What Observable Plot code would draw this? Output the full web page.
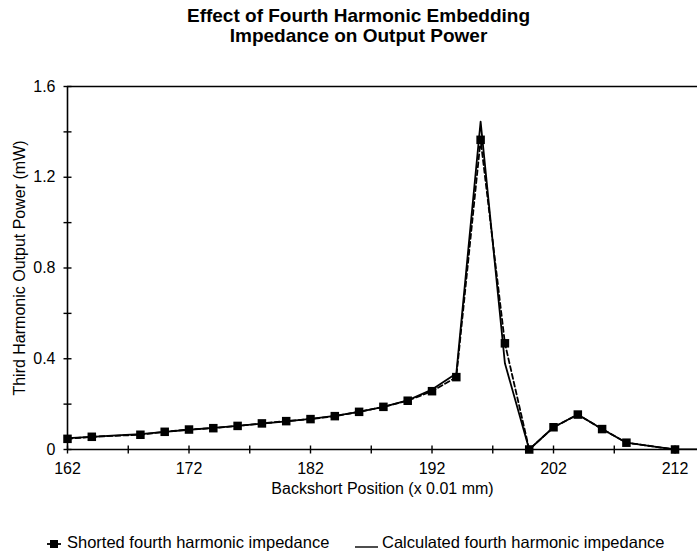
<!DOCTYPE html>
<html>
<head>
<meta charset="utf-8">
<script src="https://cdn.jsdelivr.net/npm/d3@7"></script>
<script src="https://cdn.jsdelivr.net/npm/@observablehq/plot@0.6"></script>
<style>
  body { margin: 0; background: #fff; font-family: "Liberation Sans", Arial, sans-serif; }
  #title { position: relative; height: 50px; text-align: center; font-weight: bold; font-size: 19px; line-height: 20px; padding-top: 6px; box-sizing: border-box; margin-left: 20px; color: #000; }
  #legend { position: relative; height: 45px; font-size: 16.5px; color: #000; }
  .li { position: absolute; top: 24px; display: flex; align-items: center; }
</style>
</head>
<body>
<div id="title">Effect of Fourth Harmonic Embedding<br>Impedance on Output Power</div>
<div id="chart"></div>
<div id="legend"></div>
<script>
// Shorted fourth harmonic impedance (squares)
const shortedX = [162,164,168,170,172,174,176,178,180,182,184,186,188,190,192,194,196,198,200,202,204,206,208,212];
const shortedY = [0.047,0.056,0.065,0.078,0.088,0.094,0.104,0.115,0.125,0.134,0.147,0.166,0.188,0.215,0.257,0.319,1.365,0.468,0.0,0.098,0.154,0.09,0.03,0.0];
// Calculated fourth harmonic impedance (line)
const calcX = [162,164,166,168,170,172,174,176,178,180,182,184,186,188,190,192,194,196,198,200,202,204,206,208,210,212,214];
const calcY = [0.05,0.056,0.062,0.068,0.078,0.087,0.095,0.104,0.114,0.124,0.135,0.148,0.166,0.188,0.217,0.264,0.335,1.445,0.38,0.0,0.098,0.154,0.09,0.03,0.015,0.0,0.0];
// Axis ticks
const xTickLabels = [162,172,182,192,202,212];
const xTicksAll = [162,167,172,177,182,187,192,197,202,207,212];
const yTickLabels = [0,0.4,0.8,1.2,1.6];
const yTicksAll = [0,0.2,0.4,0.6,0.8,1.0,1.2,1.4,1.6];

const shorted = shortedX.map((x,i) => ({x, y: shortedY[i]}));
const calc = calcX.map((x,i) => ({x, y: calcY[i]}));

const vTick = {draw(ctx) { ctx.moveTo(0,-4); ctx.lineTo(0,4); }};
const hTick = {draw(ctx) { ctx.moveTo(-4,0); ctx.lineTo(4,0); }};

const chart = Plot.plot({
  width: 697,
  height: 459,
  marginLeft: 67,
  marginRight: 0,
  marginTop: 36,
  marginBottom: 60,
  style: {fontFamily: '"Liberation Sans", Arial, sans-serif', fontSize: "16px", color: "#000", background: "#fff"},
  x: {domain: [162, 213.85]},
  y: {domain: [0, 1.6]},
  marks: [
    Plot.axisX({ticks: xTickLabels, tickSize: 0, tickPadding: 13, label: "Backshort Position (x 0.01 mm)", labelAnchor: "center", labelOffset: 44, labelArrow: "none", fontSize: 16}),
    Plot.axisY({ticks: yTickLabels, tickSize: 0, tickPadding: 12, tickFormat: d => d === 0 ? "0" : d.toFixed(1), label: "Third Harmonic Output Power (mW)", labelAnchor: "center", labelOffset: 54, labelArrow: "none", fontSize: 16}),
    Plot.ruleY([0], {stroke: "#000", strokeWidth: 1.6}),
    Plot.ruleY([1.6], {stroke: "#000", strokeWidth: 1.6}),
    Plot.ruleX([162], {stroke: "#000", strokeWidth: 1.6}),
    Plot.dot(xTicksAll, {x: d => d, y: 0, symbol: vTick, stroke: "#000", strokeWidth: 1.4, fill: "none"}),
    Plot.dot(yTicksAll, {x: 162, y: d => d, symbol: hTick, stroke: "#000", strokeWidth: 1.4, fill: "none"}),
    Plot.line(calc, {x: "x", y: "y", stroke: "#000", strokeWidth: 1.8, clip: true}),
    Plot.line(shorted, {x: "x", y: "y", stroke: "#000", strokeWidth: 1.8, strokeDasharray: "5,3", clip: true}),
    Plot.dot(shorted, {x: "x", y: "y", symbol: "square", r: 4.8, fill: "#000", stroke: "none"})
  ]
});
document.getElementById("chart").appendChild(chart);

// Legend
const legend = d3.select("#legend");
const l1 = legend.append("div").attr("class", "li").style("left", "46px");
const s1 = l1.append("svg").attr("width", 16).attr("height", 12).style("margin-right", "5px");
s1.append("line").attr("x1", 1).attr("x2", 15).attr("y1", 7).attr("y2", 7).attr("stroke", "#000").attr("stroke-width", 1.8);
s1.append("rect").attr("x", 4).attr("y", 3).attr("width", 8).attr("height", 8).attr("fill", "#000");
l1.append("span").text("Shorted fourth harmonic impedance");
const l2 = legend.append("div").attr("class", "li").style("left", "354px");
const s2 = l2.append("svg").attr("width", 25).attr("height", 12).style("margin-right", "3px");
s2.append("line").attr("x1", 1).attr("x2", 24).attr("y1", 10).attr("y2", 10).attr("stroke", "#000").attr("stroke-width", 1.4);
l2.append("span").text("Calculated fourth harmonic impedance");
</script>
</body>
</html>
